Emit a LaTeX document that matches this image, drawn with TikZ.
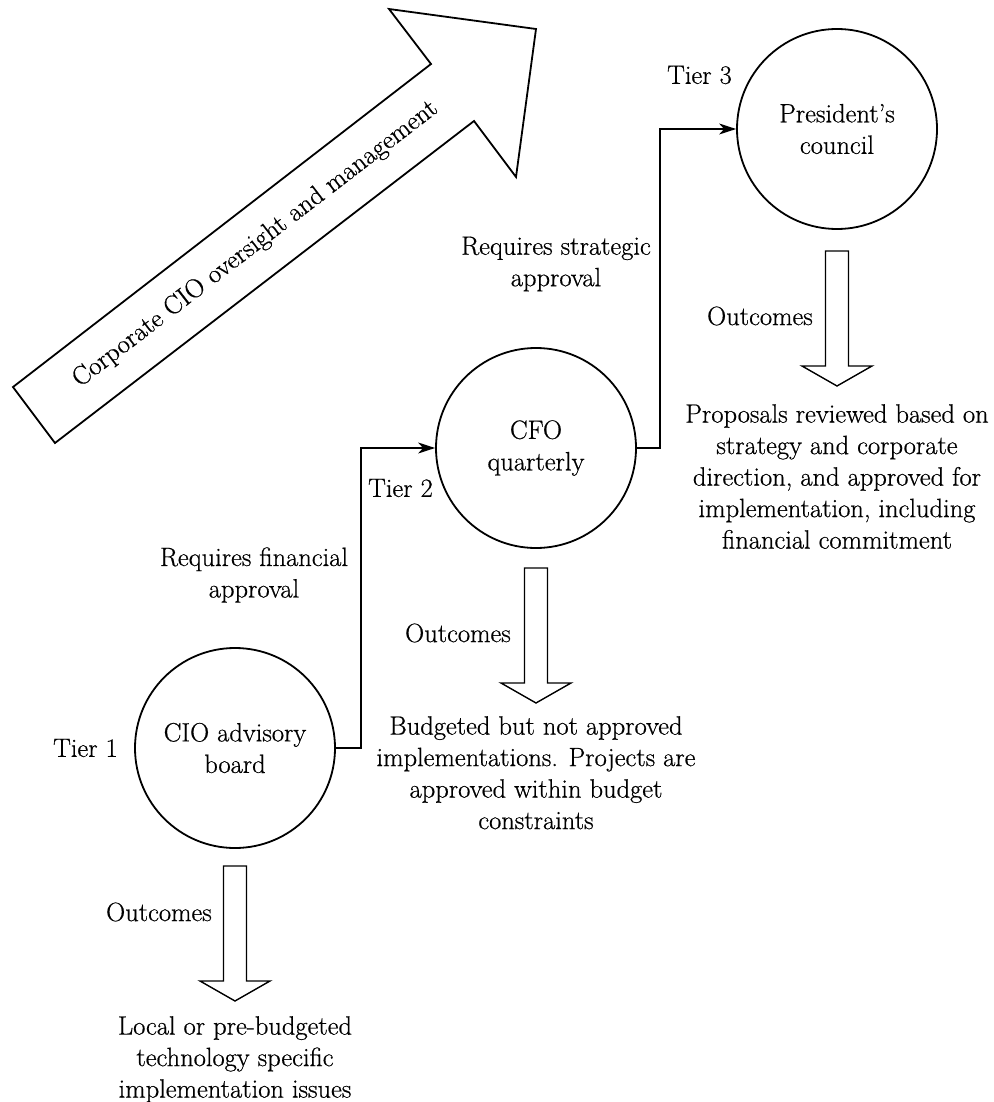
\documentclass[tikz,border=0pt]{standalone}
\usepackage{fontspec}
\setmainfont{Latin Modern Roman}[FakeBold=0.6]
\usetikzlibrary{arrows.meta}
\newcommand\outarr[2]{\draw[blk] (#1-11.5,#2) -- (#1+11.5,#2) -- (#1+11.5,#2+115) -- (#1+35,#2+115) -- (#1,#2+135) -- (#1-35,#2+115) -- (#1-11.5,#2+115) -- cycle;}
\begin{document}
\begin{tikzpicture}[x=1pt,y=-1pt,
  txt/.style={font=\fontsize{26.5}{31.5}\selectfont, inner sep=0pt, align=center},
  tier/.style={circle, draw, line width=1.8pt, minimum size=200pt, inner sep=0pt, txt},
  conn/.style={line width=1.3pt, -{Stealth[length=17pt,width=11pt,inset=5pt]}},
  blk/.style={line width=1.4pt, line join=miter},
  big/.style={line width=1.8pt, line join=miter}]
\useasboundingbox (0,0) rectangle (993,1102);

% big arrow
\draw[big] (13,387) -- (431,64) -- (389,9) -- (536,29) -- (516,177) -- (474,121) -- (55,443) -- cycle;
\path (34,415) -- node[txt, sloped, pos=0.53] (bt) {Corporate CIO oversight and management} (452,93);

% tiers
\node[tier] (t1) at (235,748) {CIO advisory\\board};
\node[tier] (t2) at (536,448) {CFO\\quarterly};
\node[tier] (t3) at (837,129) {President's\\council};

\node[txt, anchor=east] (l1) at (118,748) {Tier 1};
\node[txt, anchor=east] (l2) at (433,488) {Tier 2};
\node[txt, anchor=east] (l3) at (732,75) {Tier 3};

% connectors
\coordinate (c1) at (361,748);
\coordinate (c2) at (660,448);
\draw[conn] (t1.east) -- (c1) |- (t2.west);
\draw[conn] (t2.east) -- (c2) |- (t3.west);

\node[txt] (rf) at (254,575) {Requires financial\\approval};
\node[txt] (rs) at (556,264) {Requires strategic\\approval};

% outcome arrows
\outarr{235}{866}
\outarr{536}{568}
\outarr{837}{251}

\node[txt, anchor=east] (o1) at (212,912) {Outcomes};
\node[txt, anchor=east] (o2) at (511,633) {Outcomes};
\node[txt, anchor=east] (o3) at (813,316) {Outcomes};

\node[txt, anchor=north] (r1) at (235,1016) {Local or pre-budgeted\\technology specific\\implementation issues};
\node[txt, anchor=north] (r2) at (536,716) {Budgeted but not approved\\implementations. Projects are\\approved within budget\\constraints};
\node[txt, anchor=north] (r3) at (837,404) {Proposals reviewed based on\\strategy and corporate\\direction, and approved for\\implementation, including\\financial commitment};
\end{tikzpicture}
\end{document}
